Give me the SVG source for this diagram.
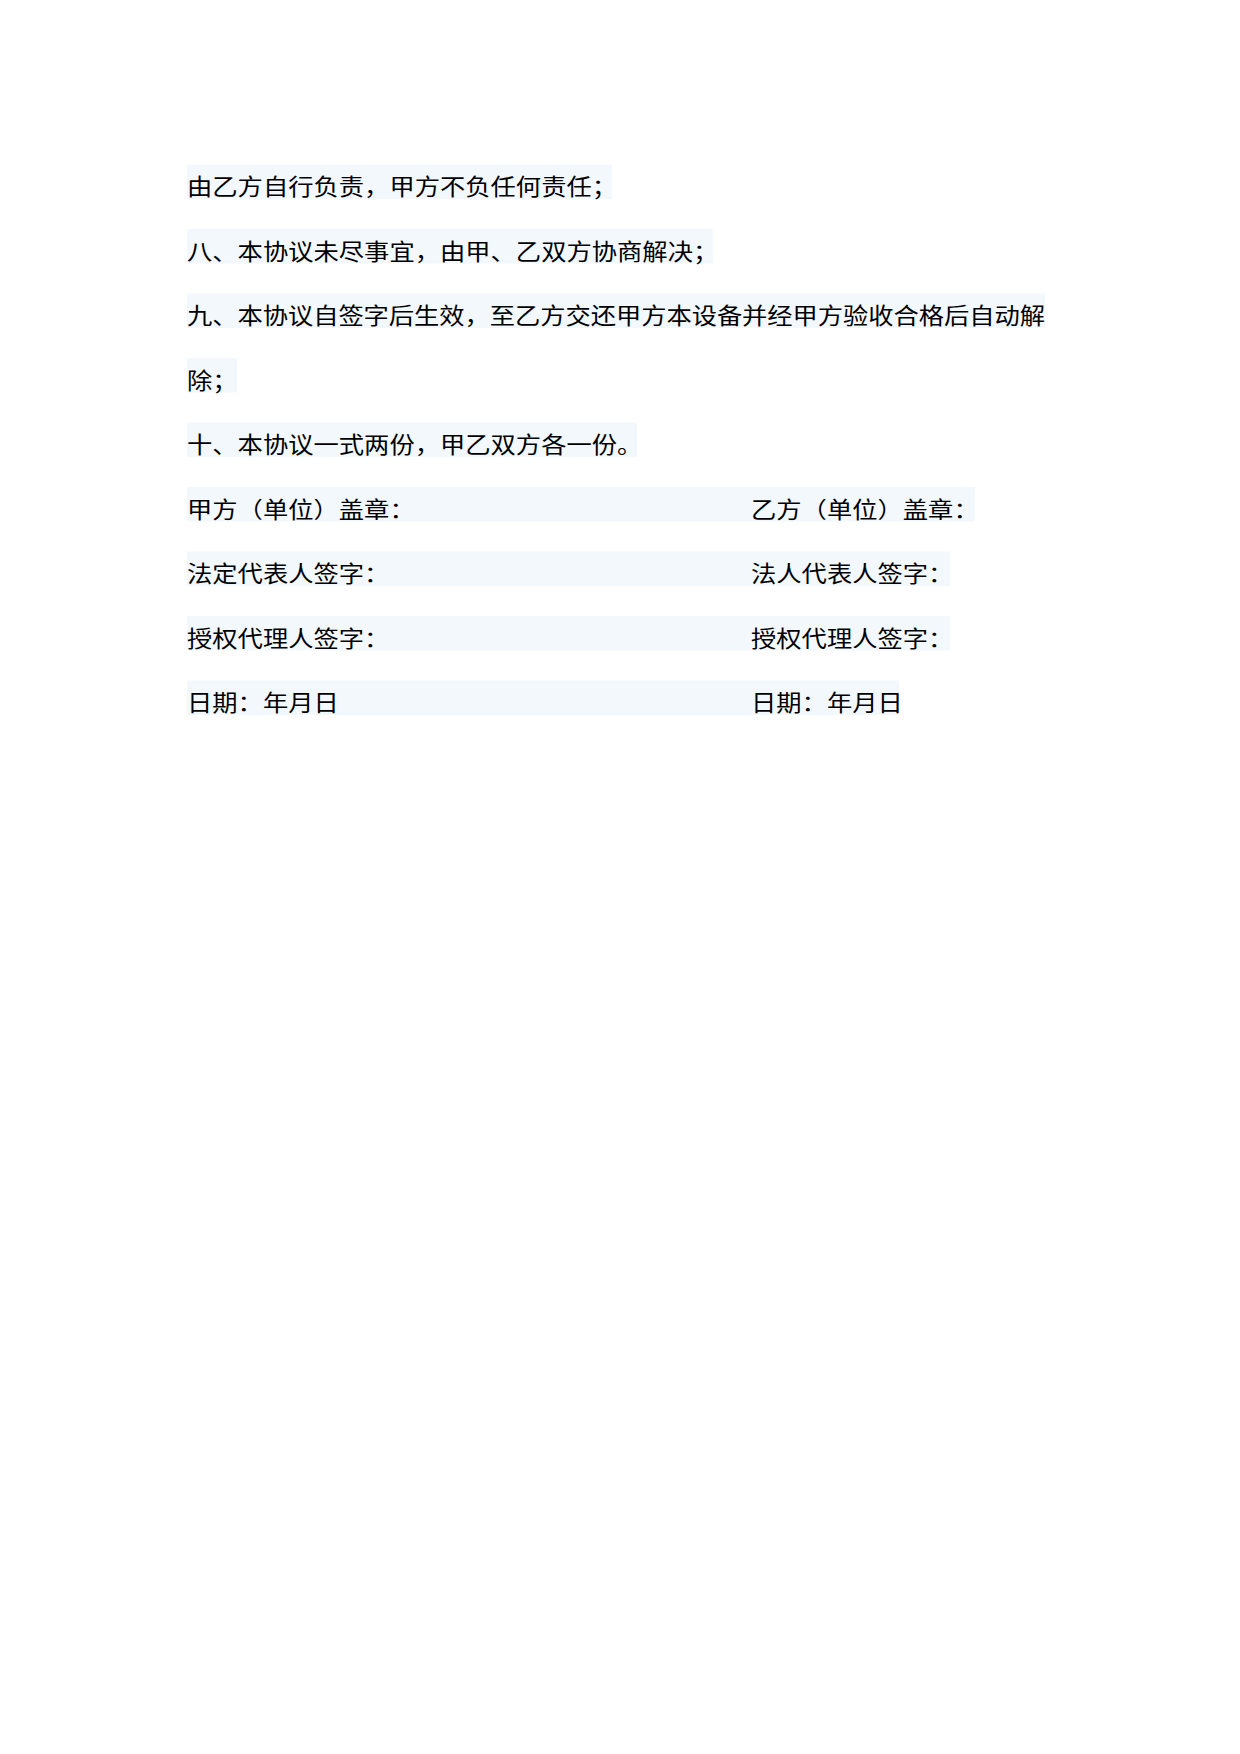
<svg xmlns="http://www.w3.org/2000/svg" width="1240" height="1754" viewBox="0 0 1240 1754">
<style>
.h{fill:#f3f8fd}
text{font-family:"Noto Sans CJK SC","Noto Sans CJK JP",sans-serif;font-size:25.3px;fill:#000}
</style>
<rect width="1240" height="1754" fill="#fff"/>
<g id="l1"><rect class="h" x="187" y="164.5" width="425" height="34.5"/><text transform="translate(187,195) scale(1,0.88)">由乙方自行负责，甲方不负任何责任；</text></g>
<g id="l2"><rect class="h" x="187" y="229" width="526" height="34.5"/><text transform="translate(187,259.5) scale(1,0.88)">八、本协议未尽事宜，由甲、乙双方协商解决；</text></g>
<g id="l3"><rect class="h" x="187" y="293.5" width="858" height="34.5"/><text transform="translate(187,324) scale(1,0.88)" textLength="858">九、本协议自签字后生效，至乙方交还甲方本设备并经甲方验收合格后自动解</text></g>
<g id="l4"><rect class="h" x="187" y="358" width="50" height="34.5"/><text transform="translate(187,388.5) scale(1,0.88)">除；</text></g>
<g id="l5"><rect class="h" x="187" y="422.5" width="450" height="34.5"/><text transform="translate(187,453) scale(1,0.88)">十、本协议一式两份，甲乙双方各一份。</text></g>
<g id="l6"><rect class="h" x="187" y="487" width="788" height="34.5"/><text transform="translate(187,517.5) scale(1,0.88)">甲方（单位）盖章：</text><text transform="translate(751,517.5) scale(1,0.88)">乙方（单位）盖章：</text></g>
<g id="l7"><rect class="h" x="187" y="551.5" width="763" height="34.5"/><text transform="translate(187,582) scale(1,0.88)">法定代表人签字：</text><text transform="translate(751,582) scale(1,0.88)">法人代表人签字：</text></g>
<g id="l8"><rect class="h" x="187" y="616" width="763" height="34.5"/><text transform="translate(187,646.5) scale(1,0.88)">授权代理人签字：</text><text transform="translate(751,646.5) scale(1,0.88)">授权代理人签字：</text></g>
<g id="l9"><rect class="h" x="187" y="680.5" width="712" height="34.5"/><text transform="translate(187,711) scale(1,0.88)">日期：年月日</text><text transform="translate(751,711) scale(1,0.88)">日期：年月日</text></g>
</svg>
